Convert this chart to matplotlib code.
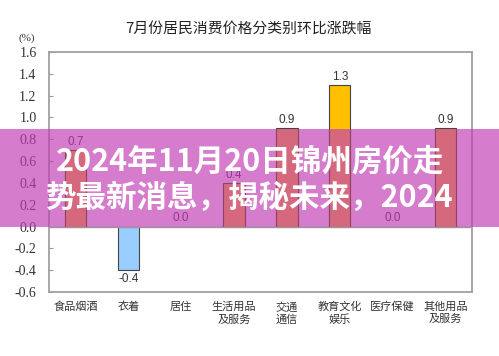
import matplotlib
matplotlib.use("Agg")
import matplotlib.pyplot as plt
from matplotlib.patches import Rectangle
import numpy as np

plt.rcParams['font.family'] = ['Noto Sans CJK SC', 'DejaVu Sans']

title = "7月份居民消费价格分类别环比涨跌幅"
categories = ["食品烟酒", "衣着", "居住", "生活用品\n及服务", "交通\n通信", "教育文化\n娱乐", "医疗保健", "其他用品\n及服务"]
values = [0.7, -0.4, 0.0, 0.4, 0.9, 1.3, 0.0, 0.9]
value_labels = ["0.7", "-0.4", "0.0", "0.4", "0.9", "1.3", "0.0", "0.9"]
yticks = [-0.6, -0.4, -0.2, 0.0, 0.2, 0.4, 0.6, 0.8, 1.0, 1.2, 1.4, 1.6]
ytick_labels = ["-0.6", "-0.4", "-0.2", "0.0", "0.2", "0.4", "0.6", "0.8", "1.0", "1.2", "1.4", "1.6"]
banner_lines = ["2024年11月20日锦州房价走", "势最新消息，揭秘未来，2024"]

RED = '#D9687A'
BLUE = '#99CCFF'
YELLOW = '#FFC000'
colors = []
for v in values:
    if v < 0:
        colors.append(BLUE)
    elif v == max(values):
        colors.append(YELLOW)
    else:
        colors.append(RED)

fig = plt.figure(figsize=(4.99, 3.56), dpi=100)
fig.patch.set_facecolor('white')
ax = fig.add_axes([49/499, 1-292/356, (472-49)/499, (292-52)/356])

x = np.arange(len(categories))
nz = [i for i, v in enumerate(values) if v != 0]
ax.bar([x[i] for i in nz], [values[i] for i in nz], width=0.4,
       color=[colors[i] for i in nz], edgecolor='#444444', linewidth=0.8, zorder=2)
ax.axhline(0, color='#999999', linewidth=1.0, zorder=3)

for xi, v, lab in zip(x, values, value_labels):
    if v < 0:
        ax.text(xi, v - 0.03, lab, ha='center', va='top', fontsize=8.5,
                color='#333333', family=['Liberation Sans', 'DejaVu Sans'], zorder=4)
    else:
        ax.text(xi, v + 0.02, lab, ha='center', va='bottom', fontsize=8.5,
                color='#333333', family=['Liberation Sans', 'DejaVu Sans'], zorder=4)

ax.set_xlim(-0.5, len(categories) - 0.5)
ax.set_ylim(-0.6, 1.6)
ax.set_yticks(yticks)
ax.set_yticklabels(ytick_labels, family=['Liberation Serif', 'DejaVu Serif'], fontsize=10, color='#333333')
ax.set_xticks(x)
ax.set_xticklabels(categories, fontsize=8, color='#333333', linespacing=1.25)
ax.tick_params(axis='y', direction='in', length=3, pad=9, color='#999999', width=0.8)
ax.tick_params(axis='x', length=0, pad=7)
for s in ax.spines.values():
    s.set_color('#A0A0A0')
    s.set_linewidth(1.3)
    s.set_zorder(5)

fig.text(27/499, 1-38/356, "(%)", ha='center', va='center', fontsize=8,
         family=['Liberation Serif', 'DejaVu Serif'], color='#333333')
fig.text(248/499, 1-29/356, title, ha='center', va='center', fontsize=10.7, color='#222222')

# banner overlay (drawn inside the axes so the zorders interleave)
b0, b1 = 1-227/356, 1-129/356
banner = Rectangle((0, b0), 1, b1-b0, transform=fig.transFigure,
                   facecolor=(195/255, 60/255, 180/255), alpha=0.67,
                   edgecolor='none', zorder=10, clip_on=False)
ax.add_artist(banner)

clip_rect = Rectangle((0, b0), 1, b1-b0, transform=fig.transFigure, facecolor='none', edgecolor='none')
pos_x = [xi for xi, v in zip(x, values) if v > 0]
pos_v = [v for v in values if v > 0]
over = ax.bar(pos_x, pos_v, width=0.4, color='#D5687C', edgecolor='#8E4466', linewidth=0.8, zorder=11)
for p in over.patches:
    p.set_clip_path(clip_rect)

for i, (yy, line) in enumerate(zip([161, 198], banner_lines)):
    ax.text(250/499, 1-yy/356, line, transform=fig.transFigure, ha='center', va='center',
            fontsize=22, fontweight='bold', color='white', zorder=12, clip_on=False)

fig.savefig("out.png", dpi=100)
